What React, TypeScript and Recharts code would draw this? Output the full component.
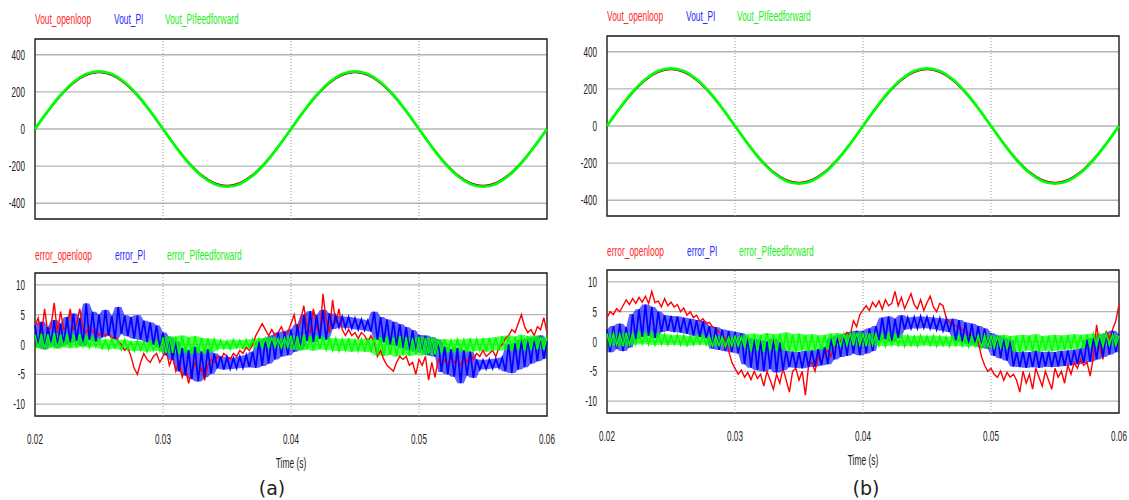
import { ComposedChart, Line, Area, XAxis, YAxis, CartesianGrid, ReferenceLine, ReferenceArea, Label } from "recharts";

const voutNames = ["Vout_openloop", "Vout_PI", "Vout_PIfeedforward"];
const errorNames = ["error_openloop", "error_PI", "error_PIfeedforward"];
const seriesColors = ["#ff0000", "#0000ff", "#00ff00"];
const legendColors = ["#ff2a2a", "#2a2aff", "#22ee22"];
const timeTicks = [0.02, 0.03, 0.04, 0.05, 0.06];
const voutTicks = [-400, -200, 0, 200, 400];
const errorTicks = [-10, -5, 0, 5, 10];

// sampling of the traces
const VOUT_T0 = 0.02;
const VOUT_DT = 0.001;
const ERR_T0 = 0.02;
const ERR_DT = 0.00025;

// output voltage (same shape in both cases)
const voutOpenloop = [0, 94, 178, 246, 289, 304, 289, 246, 178, 94, 0, -94, -178, -246, -289, -304, -289, -246, -178, -94, 0, 94, 178, 246, 289, 304, 289, 246, 178, 94, 0, -94, -178, -246, -289, -304, -289, -246, -178, -94, 0];
const voutPI = [0, 95, 181, 249, 292, 307, 292, 249, 181, 95, 0, -95, -181, -249, -292, -307, -292, -249, -181, -95, 0, 95, 181, 249, 292, 307, 292, 249, 181, 95, 0, -95, -181, -249, -292, -307, -292, -249, -181, -95, 0];
const voutPIff = [0, 96, 183, 252, 296, 311, 296, 252, 183, 96, 0, -96, -183, -252, -296, -311, -296, -252, -183, -96, 0, 96, 183, 252, 296, 311, 296, 252, 183, 96, 0, -96, -183, -252, -296, -311, -296, -252, -183, -96, 0];

// (a) errors
const errOpenloopA = [
  3, 4.5, 1.5, 6, 2, 3, 7, 2, 5.5, 2.5,
  3, 6, 2.5, 3.5, 6, 2.5, 2, 3, 2, 2.5,
  1.5, 2, 1.5, 2, 1, 1.5, 0.5, 0, -1, -0.5,
  -2, -4, -5, -3, -1.5, -2.5, -3, -2, -1.5, -3,
  -2, -1, -3.5, -2, -4.5, -3, -5.5, -4, -6.5, -4.5,
  -3, -5, -4, -6, -3.5, -2.5, -3, -2, -2.5, -1.5,
  -2, -2.5, -1.5, -2, -1, -1.5, -0.5, -1, 0, 1.5,
  2.5, 3.5, 2.5, 1.5, 2.5, 1.5, 2, 3, 1.5, 2,
  3.5, 5, 2, 4, 6.5, 3, 2, 6, 3, 1.5,
  8.5, 4, 2, 7.5, 3.5, 6, 2.5, 1.5, 2.5, 1.5,
  2, 1, 2, 1.5, 0.5, 1.5, 0.5, -2, -1, -2.5,
  -3.5, -4, -4.5, -3, -2, -2.5, -2, -3.5, -3, -5,
  -2.5, -3.5, -2, -6, -3, -5.5, -2.5, -3.5, -2.5, -3.5,
  -2, -3, -2.5, -3.5, -2, -3, -1.5, -2.5, -1.5, -2,
  -1, -2, -1.5, -1, -2, -0.5, 0, 1, 1.5, 2.5,
  2, 3.5, 5, 3, 2, 2.5, 1.5, 3, 2.5, 4.5,
  2,
];
const errPIA = [
  3.2, -0.4, 3.8, -0.8, 2.9, 0.2, 4.1, -0.5, 3.5, 0,
  4.6, 0.3, 5.2, 0.6, 4.4, -0.2, 6.9, 0.8, 5.5, 0.5,
  5, 1.2, 5.8, 1.5, 4.8, 0.9, 6.3, 1.8, 4.9, 1.4,
  4.6, 1, 4.9, 0.8, 4, 0.4, 3.7, 0, 3.2, -0.5,
  2, -1.8, 1.2, -2.6, 0.6, -4.5, -0.6, -5.2, -1, -5.8,
  -0.4, -6.2, -1.2, -5.5, -0.8, -4.9, -1.5, -4, -2, -4.2,
  -2.1, -4.1, -2.3, -4, -2, -3.9, -1.8, -3.8, -1.2, -3.9,
  0.6, -3.6, 1, -3.2, 1.5, -2.5, 2, -2, 2.2, -1.8,
  2.5, -1.2, 3.4, -0.8, 5, 0.6, 5.6, 0.4, 4.9, 1,
  5.8, 0.8, 5.2, 2.6, 4.8, 2.9, 4.7, 2.8, 4.6, 2.7,
  4.4, 2.5, 4.2, 2.4, 4, 2.2, 5.5, 0.8, 4.6, 0.4,
  4.2, 0, 3.8, -0.2, 3.4, -0.6, 2.9, -1, 2.4, -1.2,
  1.6, -1.4, 1.5, -1.8, 1.2, -2, 0.8, -4.6, -0.4, -5,
  -0.8, -5.4, -0.6, -6.5, -1, -5.2, -1.2, -5.6, -2.5, -4.2,
  -2.6, -4.1, -2.5, -4, -2.4, -3.9, -2.2, -4.5, 0, -4.8,
  0.2, -4.2, 0.8, -3.8, 1, -3.2, 1.2, -2.8, 1.5, -2.4,
  0.5,
];
const errPIffA = [
  1.6, -0.6, 1.8, -0.8, 1.7, -0.5, 1.9, -0.7, 1.6, -0.4,
  1.8, -0.6, 1.5, -0.5, 1.7, -0.3, 1.4, -0.5, 1.3, -0.4,
  0.9, -0.7, 0.8, -0.8, 0.9, -0.6, 0.7, -0.9, 0.8, -0.8,
  0.5, -1.1, 0.6, -1, 0.4, -1.2, 0.6, -1, 0.5, -1.1,
  1.2, -1.5, 1.4, -1.4, 1.3, -1.6, 1.5, -1.3, 1.2, -1.6,
  1.4, -1.4, 1.1, -1.5, 1, -1.3, 0.9, -0.8, 0.7, -0.7,
  0.6, -0.8, 0.8, -0.6, 0.7, -0.7, 0.8, -0.6, 0.9, -0.5,
  1, -0.5, 1.1, -0.5, 1.2, -0.4, 1, -0.6, 1.1, -0.5,
  1.5, -0.9, 1.4, -1, 1.6, -0.8, 1.3, -1, 1.5, -0.8,
  1.2, -0.9, 1.1, -1, 1, -1.1, 0.9, -1, 1, -1.2,
  0.8, -1.1, 0.9, -1.2, 1, -1.3, 1.1, -1.8, 1.2, -1.9,
  1.3, -1.7, 1.1, -2, 1.4, -1.8, 1.2, -1.9, 1, -1.7,
  1.3, -1.8, 1.1, -1.6, 1.2, -1.7, 0.8, -1.2, 0.9, -1.3,
  0.7, -1.2, 0.9, -1.1, 0.8, -1.3, 1, -1.1, 0.9, -1,
  1, -1.2, 1.1, -1, 1.2, -1, 1.4, -0.9, 1.5, -1.1,
  1.3, -0.8, 1.6, -1, 1.4, -0.9, 1.5, -0.8, 1.3, -0.9,
  1.2,
];

// (b) errors
const errOpenloopB = [
  4, 5, 4.5, 5.5, 5, 6, 7, 6.2, 7.2, 6.4,
  7.4, 6.6, 7.6, 6.4, 8.4, 6.5, 6.8, 5.8, 7.2, 6,
  6.6, 5.8, 6.2, 5, 5.6, 4.4, 5, 4, 4.4, 3.4,
  3.8, 3, 3.2, 2.4, 2.2, 1.6, 1.2, 0.5, -1.5, -3.5,
  -4.5, -5.5, -4.8, -6, -5.2, -6.4, -5, -6.2, -5.5, -7.5,
  -5, -6.5, -8, -5.5, -7, -4.5, -6.5, -8.5, -5, -4.5,
  -6.5, -5, -9, -4, -3.5, -5, -2.5, -3.5, -2, -1.5,
  -2.5, -0.5, 0.5, 0, 1, 1.5, 1, 3.5, 2.5, 4.5,
  5.3, 6, 5.2, 6.6, 5.8, 6.8, 5.4, 7, 6, 6.4,
  8.4, 6, 7.4, 5.5, 6.8, 8, 6.2, 5.5, 7, 5.2,
  6.5, 7.6, 5.8, 5, 6.4, 6, 4, 3.2, 3, 2.6,
  2.2, 2, 1.6, 1.2, 1, 0.5, 0, -2.5, -4, -5,
  -4.5, -5.5, -6, -5, -6.5, -5.2, -6, -5.5, -6.5, -8.5,
  -5, -7, -5.5, -8, -4.5, -6, -7.5, -5, -6.5, -8,
  -4.5, -6, -5, -7, -4, -5.5, -3.5, -4.5, -3, -4,
  -3.5, -5.8, -2.5, 2.8, -1, -3, 1.8, 0.5, 2, 3.5,
  6.2,
];
const errPIB = [
  2, -1.8, 2.6, -1.2, 3, -1.6, 2.4, -1, 4.6, 0.4,
  5.4, 0.8, 6.2, 1, 5.8, 0.6, 5, 1.6, 4.4, 1.8,
  4.3, 1.6, 4.2, 1.5, 4, 1.3, 3.8, 1, 3.6, 0.8,
  3.4, 0.6, 2.6, -1.2, 2.4, -1.4, 2, -1.6, 1.8, -1.8,
  1.6, -2, 1.4, -3.8, 0.6, -4.4, 0.4, -4.8, 0.2, -5,
  0, -4.6, 0.5, -5.2, -0.2, -4.8, -1.6, -4.3, -1.7, -4.4,
  -1.8, -4.5, -1.6, -4.3, -1.5, -4.2, -1.3, -4, -1, -3.8,
  0.6, -3, 1, -2.6, 1.2, -2.4, 1.6, -2, 1.8, -2.3,
  1.8, -2, 2.2, -1.6, 2.6, 0.2, 4, 0.4, 4.2, 0,
  3.8, 0.6, 4.4, 2, 4, 2.2, 4.1, 2.2, 4.2, 2.3,
  4.1, 2.2, 4, 2, 3.9, 1.8, 3.7, 1.6, 3.8, 0.2,
  3.6, 0, 3.2, -0.4, 3, -0.6, 2.6, -1, 2.2, -1.2,
  1.4, -2.4, 1, -2.8, 0.6, -3.2, 0.2, -4.2, -1.8, -4.3,
  -1.7, -4.4, -1.8, -4.3, -1.6, -4.4, -1.8, -4.2, -1.7, -4.3,
  -1.8, -4.2, -1.6, -4.1, -1.5, -4, -1.4, -3.8, -1.2, -3.6,
  0.3, -3.4, 0.6, -3, 1, -2.6, 1.4, -2.2, 1.8, -1.8,
  1.2,
];
const errPIffB = [
  1.3, -0.7, 1.4, -0.6, 1.2, -0.8, 1.5, -0.6, 1.3, -0.5,
  1.6, -0.4, 1.4, -0.5, 1.5, -0.6, 1.3, -0.5, 1.2, -0.6,
  1, -0.5, 1.1, -0.6, 1, -0.7, 0.9, -0.6, 1, -0.5,
  1.1, -0.6, 0.8, -0.8, 0.9, -0.7, 0.8, -0.9, 0.7, -0.8,
  0.9, -0.8, 0.8, -0.9, 1.2, -1.6, 1.3, -1.5, 1.1, -1.7,
  1.4, -1.5, 1.2, -1.6, 1.3, -1.4, 1.5, -1.6, 1.2, -1.7,
  1.3, -1.5, 1.1, -1.6, 1.2, -1.5, 1, -1.4, 1.1, -1.3,
  1.3, -0.8, 1.4, -0.7, 1.3, -0.6, 1.4, -0.7, 1.5, -0.6,
  1.3, -0.8, 1.4, -0.6, 1.3, -0.7, 1.2, -0.8, 1.3, -0.6,
  1.2, -0.7, 1.1, -0.8, 1, -0.7, 0.9, -0.8, 1, -0.6,
  0.9, -0.7, 1, -0.8, 0.9, -0.7, 0.8, -0.8, 0.9, -0.7,
  1, -0.8, 0.9, -0.9, 0.8, -0.8, 1, -1, 1.1, -0.9,
  1, -1.1, 0.9, -1, 1.1, -1.2, 0.9, -1.6, 1, -1.7,
  1.1, -1.5, 1, -1.6, 1.2, -1.7, 0.9, -1.5, 1, -1.6,
  1.1, -1.5, 1, -1.4, 1.1, -1.3, 1.2, -1.2, 1.1, -1.1,
  1.2, -0.8, 1.3, -0.7, 1.2, -0.8, 1.3, -0.6, 1.2, -0.7,
  1,
];

const FONT = "'Liberation Sans', Arial, sans-serif";
const SQUEEZE = 0.58;

type Row = { t: number; s0: number; s1: number; s2: number; b1?: number[]; b2?: number[] };

// local min/max of the switching ripple, so the noisy traces read as a band
function ripple(vals: number[], i: number) {
  const w = vals.slice(Math.max(0, i - 1), i + 2);
  return [Math.min(...w), Math.max(...w)];
}

function buildTable(t0: number, dt: number, cols: number[][], band = false): Row[] {
  return cols[0].map((_, i) => {
    const row: Row = {
      t: +(t0 + i * dt).toFixed(6),
      s0: cols[0][i],
      s1: cols[1][i],
      s2: cols[2][i],
    };
    if (band) {
      row.b1 = ripple(cols[1], i);
      row.b2 = ripple(cols[2], i);
    }
    return row;
  });
}

function YTick(props: any) {
  const { x, y, payload } = props;
  return (
    <text transform={`translate(${x},${y}) scale(${SQUEEZE},1)`} textAnchor="end" dy="0.36em" fontSize={14} fill="#222" fontFamily={FONT}>
      {payload.value}
    </text>
  );
}

function XTick(props: any) {
  const { x, y, payload } = props;
  return (
    <text transform={`translate(${x},${y}) scale(${SQUEEZE},1)`} textAnchor="middle" dy="0.71em" fontSize={14} fill="#222" fontFamily={FONT}>
      {payload.value}
    </text>
  );
}

function TimeLabel(props: any) {
  const vb = props.viewBox || {};
  const cx = vb.x + vb.width / 2;
  const cy = vb.y + 52;
  return (
    <text transform={`translate(${cx},${cy}) scale(0.6,1)`} textAnchor="middle" fontSize={14} fill="#222" fontFamily={FONT}>
      Time (s)
    </text>
  );
}

interface ScopePlotProps {
  plotLeft: number;
  plotTop: number;
  plotHeight: number;
  data: Row[];
  yDomain: [number, number];
  yTicks: number[];
  widths: number[];
  curve: "monotone" | "linear";
  showTime?: boolean;
  band?: boolean;
}

function ScopePlot({ plotLeft, plotTop, plotHeight, data, yDomain, yTicks, widths, curve, showTime, band }: ScopePlotProps) {
  const padTop = 12;
  const padRight = 14;
  const yAxisW = 35;
  const plotWidth = 512;
  const xAxisH = showTime ? 62 : 0;
  const padBottom = showTime ? 0 : 8;
  const x0 = timeTicks[0];
  const x1 = timeTicks[timeTicks.length - 1];

  const traces: any[] = [];
  ["s0", "s1", "s2"].forEach((key, i) => {
    if (band && i > 0) {
      traces.push(
        <Area
          key={"b" + i}
          type="linear"
          dataKey={"b" + i}
          stroke="none"
          fill={seriesColors[i]}
          fillOpacity={i === 1 ? 0.62 : 0.68}
          dot={false}
          activeDot={false}
          isAnimationActive={false}
        />
      );
    }
    traces.push(
      <Line
        key={key}
        type={curve}
        dataKey={key}
        stroke={seriesColors[i]}
        strokeWidth={widths[i]}
        dot={false}
        activeDot={false}
        isAnimationActive={false}
      />
    );
  });

  return (
    <div style={{ position: "absolute", left: plotLeft - yAxisW, top: plotTop - padTop }}>
      <ComposedChart
        width={yAxisW + plotWidth + padRight}
        height={padTop + plotHeight + xAxisH + padBottom}
        data={data}
        margin={{ top: padTop, right: padRight, bottom: padBottom, left: 0 }}
      >
        <CartesianGrid vertical={false} stroke="#b5b5b5" strokeWidth={1.3} />
        {timeTicks.slice(1, -1).map((t) => (
          <ReferenceLine key={t} x={t} stroke="#9a9a9a" strokeDasharray="1 2" />
        ))}
        <XAxis
          dataKey="t"
          type="number"
          domain={[x0, x1]}
          ticks={timeTicks}
          interval={0}
          hide={!showTime}
          height={xAxisH}
          tick={<XTick />}
          tickLine={false}
          axisLine={false}
          tickMargin={12}
        >
          {showTime && <Label content={TimeLabel} />}
        </XAxis>
        <YAxis
          type="number"
          domain={yDomain}
          ticks={yTicks}
          interval={0}
          width={yAxisW}
          tick={<YTick />}
          tickLine={false}
          axisLine={false}
          tickMargin={4}
          allowDataOverflow
        />
        {traces}
        <ReferenceArea x1={x0} x2={x1} y1={yDomain[0]} y2={yDomain[1]} fill="none" fillOpacity={0} stroke="#2a2a2a" strokeWidth={1.5} />
      </ComposedChart>
    </div>
  );
}

function ScopeLegend({ left, top, names, offsets }: { left: number; top: number; names: string[]; offsets: number[] }) {
  return (
    <div style={{ position: "absolute", left, top, fontFamily: FONT, fontSize: 14, lineHeight: "16px" }}>
      {names.map((n, i) => (
        <span
          key={n}
          style={{
            position: "absolute",
            left: offsets[i],
            top: 0,
            color: legendColors[i],
            whiteSpace: "nowrap",
            transform: "scaleX(0.6)",
            transformOrigin: "left top",
          }}
        >
          {n}
        </span>
      ))}
    </div>
  );
}

function Caption({ cx, top, text }: { cx: number; top: number; text: string }) {
  return (
    <div style={{ position: "absolute", left: cx - 40, top, width: 80, textAlign: "center", fontFamily: "'DejaVu Sans', sans-serif", fontSize: 19, color: "#222" }}>
      {text}
    </div>
  );
}

export default function App() {
  const voutTable = buildTable(VOUT_T0, VOUT_DT, [voutOpenloop, voutPI, voutPIff]);
  const errTableA = buildTable(ERR_T0, ERR_DT, [errOpenloopA, errPIA, errPIffA], true);
  const errTableB = buildTable(ERR_T0, ERR_DT, [errOpenloopB, errPIB, errPIffB], true);
  const voutDomain: [number, number] = [-485, 485];
  const errDomain: [number, number] = [-12, 12];
  const voutWidths = [1.5, 1.5, 2.8];
  const errWidths = [1.4, 1.7, 1.5];

  return (
    <div style={{ position: "absolute", left: 0, top: 0, width: 1129, height: 500, background: "#fff", overflow: "hidden" }}>
      {/* (a) */}
      <ScopeLegend left={35} top={11} names={voutNames} offsets={[0, 79, 130]} />
      <ScopePlot plotLeft={35} plotTop={39} plotHeight={180} data={voutTable} yDomain={voutDomain} yTicks={voutTicks} widths={voutWidths} curve="monotone" />
      <ScopeLegend left={35} top={247} names={errorNames} offsets={[0, 80, 132]} />
      <ScopePlot plotLeft={35} plotTop={273} plotHeight={143} data={errTableA} yDomain={errDomain} yTicks={errorTicks} widths={errWidths} curve="linear" showTime band />
      <Caption cx={272} top={477} text="(a)" />

      {/* (b) */}
      <ScopeLegend left={607} top={8} names={voutNames} offsets={[0, 79, 130]} />
      <ScopePlot plotLeft={607} plotTop={36} plotHeight={180} data={voutTable} yDomain={voutDomain} yTicks={voutTicks} widths={voutWidths} curve="monotone" />
      <ScopeLegend left={607} top={243} names={errorNames} offsets={[0, 80, 132]} />
      <ScopePlot plotLeft={607} plotTop={270} plotHeight={143} data={errTableB} yDomain={errDomain} yTicks={errorTicks} widths={errWidths} curve="linear" showTime band />
      <Caption cx={866} top={477} text="(b)" />
    </div>
  );
}
